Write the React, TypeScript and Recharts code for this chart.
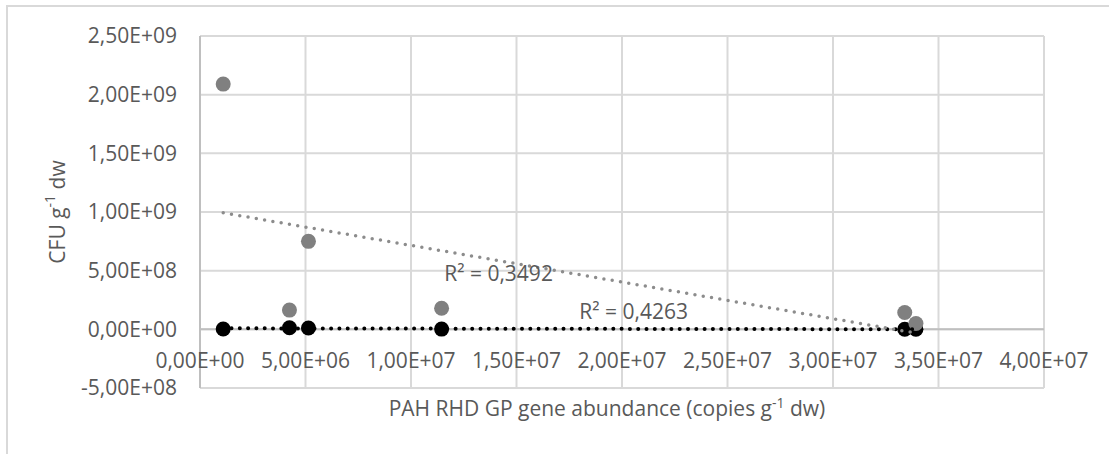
import { ScatterChart, Scatter, XAxis, YAxis, CartesianGrid, ReferenceLine, ReferenceDot } from 'recharts'

// gene abundance (copies g-1 dw), shared by both series
const abundance = [1.1e6, 4.24e6, 5.14e6, 1.145e7, 3.34e7, 3.393e7]
// CFU g-1 dw
const cfuGrey = [2.09e9, 1.64e8, 7.5e8, 1.8e8, 1.44e8, 5.0e7]
const cfuBlack = [3e6, 1.4e7, 1.1e7, 2e6, 1e6, 5e5]

const xTicks = [0, 5e6, 1e7, 1.5e7, 2e7, 2.5e7, 3e7, 3.5e7, 4e7]
const yTicks = [-5e8, 0, 5e8, 1e9, 1.5e9, 2e9, 2.5e9]

const r2Grey = 'R² = 0,3492'
const r2Black = 'R² = 0,4263'

const TEXT = '#595959'
const FONT = 21

const greyPoints = abundance.map((x, i) => ({ x, y: cfuGrey[i] }))
const blackPoints = abundance.map((x, i) => ({ x, y: cfuBlack[i] }))

// linear trendline over the data range, like Excel
function trend(pts: { x: number; y: number }[]) {
  const n = pts.length
  const mx = pts.reduce((s, p) => s + p.x, 0) / n
  const my = pts.reduce((s, p) => s + p.y, 0) / n
  let sxy = 0
  let sxx = 0
  pts.forEach((p) => {
    sxy += (p.x - mx) * (p.y - my)
    sxx += (p.x - mx) * (p.x - mx)
  })
  const slope = sxy / sxx
  const b = my - slope * mx
  const lo = Math.min(...pts.map((p) => p.x))
  const hi = Math.max(...pts.map((p) => p.x))
  return [
    { x: lo, y: slope * lo + b },
    { x: hi, y: slope * hi + b },
  ]
}

const fmt = (v: number) => {
  if (v === 0) return '0,00E+00'
  const [m, e] = v.toExponential(2).split('e')
  const exp = parseInt(e, 10)
  return m.replace('.', ',') + 'E' + (exp < 0 ? '-' : '+') + String(Math.abs(exp)).padStart(2, '0')
}

const dot = (fill: string) => (p: any) => <circle cx={p.cx} cy={p.cy} r={7.5} fill={fill} />

const XTick = ({ x, y, payload }: any) => (
  <text x={x} y={y - 28} textAnchor="middle" fill={TEXT} fontSize={FONT}>
    {fmt(payload.value)}
  </text>
)

const XTitle = ({ viewBox }: any) => (
  <text x={viewBox.x + viewBox.width / 2 - 15} y={viewBox.y + 28} textAnchor="middle" fill={TEXT} fontSize={FONT}>
    PAH RHD GP gene abundance (copies g
    <tspan dy={-8} fontSize={14}>-1</tspan>
    <tspan dy={8}> dw)</tspan>
  </text>
)

const YTitle = ({ viewBox }: any) => {
  const cx = 57
  const cy = viewBox.y + viewBox.height / 2
  return (
    <text x={cx} y={cy} transform={`rotate(-90, ${cx}, ${cy})`} textAnchor="middle" dominantBaseline="central" fill={TEXT} fontSize={FONT}>
      CFU g
      <tspan dy={-8} fontSize={14}>-1</tspan>
      <tspan dy={8}> dw</tspan>
    </text>
  )
}

export default function App() {
  return (
    <div style={{ position: 'absolute', left: 0, top: 0, width: 1109, height: 454, background: '#fff', fontFamily: '"Open Sans", sans-serif' }}>
      <div style={{ position: 'absolute', left: 6, top: 5, width: 1109, height: 454, borderTop: '2px solid #d9d9d9', borderLeft: '2px solid #d9d9d9' }} />
      <div style={{ position: 'absolute', left: 0, top: 0 }}>
        <ScatterChart width={1109} height={454} margin={{ top: 36, right: 65, bottom: 16, left: 0 }}>
          <CartesianGrid stroke="#d9d9d9" strokeWidth={2} />
          <XAxis
            type="number"
            dataKey="x"
            domain={[0, 4e7]}
            ticks={xTicks}
            height={50}
            axisLine={false}
            tickLine={false}
            tick={<XTick />}
            label={<XTitle />}
          />
          <YAxis
            type="number"
            dataKey="y"
            domain={[-5e8, 2.5e9]}
            ticks={yTicks}
            width={200}
            axisLine={{ stroke: '#bfbfbf', strokeWidth: 2 }}
            tickLine={false}
            tickMargin={17}
            tick={{ fill: TEXT, fontSize: FONT }}
            tickFormatter={fmt}
            label={<YTitle />}
          />
          <ReferenceLine y={0} stroke="#bfbfbf" strokeWidth={2} />
          <Scatter data={blackPoints} fill="#000" shape={dot('#000000')} isAnimationActive={false} />
          <Scatter data={greyPoints} fill="#808080" shape={dot('#808080')} isAnimationActive={false} />
          <Scatter
            data={trend(blackPoints)}
            shape={() => <g />}
            line={{ stroke: '#000000', strokeWidth: 4, strokeDasharray: '0 8.3', strokeLinecap: 'round' }}
            isAnimationActive={false}
          />
          <Scatter
            data={trend(greyPoints)}
            shape={() => <g />}
            line={{ stroke: '#8c8c8c', strokeWidth: 3.5, strokeDasharray: '0 8.4', strokeLinecap: 'round' }}
            isAnimationActive={false}
          />
          <ReferenceDot x={1.415e7} y={4.74e8} r={0} fill="none" stroke="none" label={{ value: r2Grey, position: 'center', fill: TEXT, fontSize: FONT }} />
          <ReferenceDot x={2.055e7} y={1.5e8} r={0} fill="none" stroke="none" label={{ value: r2Black, position: 'center', fill: TEXT, fontSize: FONT }} />
        </ScatterChart>
      </div>
    </div>
  )
}
